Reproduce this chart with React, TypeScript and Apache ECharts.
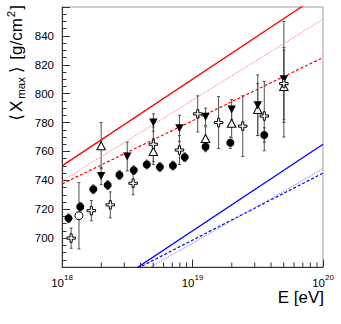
import React, { useEffect, useRef } from "react";
import * as echarts from "echarts";

// ---- axis settings ----
const yTicks = [680, 860]; // y range (min, max)
const xRange = [18, 20]; // lg(E/eV)
const xMinorTicks = [
  18.30103, 18.47712, 18.60206, 18.69897, 18.77815, 18.84510, 18.90309, 18.95424,
  19.30103, 19.47712, 19.60206, 19.69897, 19.77815, 19.84510, 19.90309, 19.95424,
];

// ---- filled circles ----
const circLgE = [18.05, 18.14, 18.24, 18.35, 18.44, 18.55, 18.65, 18.75, 18.85, 18.94, 19.1, 19.29, 19.55];
const circX = [713.7, 721.7, 733.8, 736.7, 743.7, 747.0, 751.0, 749.2, 750.2, 756.0, 763.3, 766.0, 771.4];
const circErr = [3, 3, 3, 3, 3, 3, 3, 3, 3, 3, 3.5, 4, 5];

// ---- open circle ----
const openCircLgE = [18.13];
const openCircX = [715.5];
const openCircErr = [23];

// ---- open crosses ----
const crossLgE = [18.07, 18.225, 18.37, 18.545, 18.7, 18.9, 19.04, 19.2, 19.385, 19.55, 19.7];
const crossX = [700, 719, 723, 738, 765, 761, 786, 780, 777.5, 784.5, 807];
const crossErr = [7, 7, 9, 8, 12, 10, 12.5, 18, 21, 24, 25];

// ---- filled down triangles ----
const downLgE = [18.3, 18.5, 18.7, 18.9, 19.1, 19.3, 19.5, 19.7];
const downX = [743, 756.5, 780, 776, 784, 789, 792, 810];
const downErr = [6, 10, 6, 9, 6, 7, 21, 40];

// ---- open up triangles ----
const upLgE = [18.3, 18.7, 19.1, 19.3, 19.5, 19.7];
const upX = [764, 760, 769, 779.5, 789, 805];
const upErr = [16, 9, 8, 10, 18, 25];

// ---- model lines (values at lgE 18 and 20) ----
const lineLgE = [18, 20];
const pSolid = [750, 870];
const pDotted = [739.5, 851.5];
const pDashed = [737.5, 825];
const feSolid = [645, 765];
const feDashed = [652.2, 745];
const feDotted = [645, 748];

const FONT = "'Liberation Sans', 'DejaVu Sans', Arial, sans-serif";

function errSeries(lgE: number[], val: number[], err: number[]) {
  return {
    type: "custom",
    silent: true,
    z: 2,
    data: lgE.map((x, i) => [x, val[i] - err[i], val[i] + err[i]]),
    encode: { x: 0, y: [1, 2] },
    renderItem: (params: any, api: any) => {
      const x = api.value(0);
      const p1 = api.coord([x, api.value(1)]);
      const p2 = api.coord([x, api.value(2)]);
      const cap = 1.5;
      const st = { stroke: "#505050", lineWidth: 1 };
      return {
        type: "group",
        children: [
          { type: "line", shape: { x1: p1[0], y1: p1[1], x2: p2[0], y2: p2[1] }, style: st },
          { type: "line", shape: { x1: p1[0] - cap, y1: p1[1], x2: p1[0] + cap, y2: p1[1] }, style: st },
          { type: "line", shape: { x1: p2[0] - cap, y1: p2[1], x2: p2[0] + cap, y2: p2[1] }, style: st },
        ],
      };
    },
  };
}

function scatter(lgE: number[], val: number[], symbol: string, size: number | number[], fill: string) {
  return {
    type: "scatter",
    silent: true,
    z: 5,
    symbol,
    symbolSize: size,
    data: lgE.map((x, i) => [x, val[i]]),
    itemStyle: { color: fill, borderColor: "#000", borderWidth: fill === "#000" ? 0 : 1, opacity: 1 },
  };
}

function modelLine(vals: number[], color: string, type: any, width: number) {
  return {
    type: "line",
    silent: true,
    z: 3,
    clip: true,
    symbol: "none",
    data: lineLgE.map((x, i) => [x, vals[i]]),
    lineStyle: { color, type, width },
  };
}

export default function App() {
  const ref = useRef<HTMLDivElement>(null);
  useEffect(() => {
    const chart = echarts.init(ref.current!, null, { renderer: "svg" });
    const crossPath = "path://M3,0 L5,0 L5,3 L8,3 L8,5 L5,5 L5,8 L3,8 L3,5 L0,5 L0,3 L3,3 Z";
    const downPath = "path://M0,0 L2,0 L1,1.8 Z";
    const upPath = "path://M1,0 L2,1.8 L0,1.8 Z";
    chart.setOption({
      animation: false,
      grid: { left: 62, right: 18, top: 7, bottom: 57, show: true, borderColor: "#a0a0a0", borderWidth: 1 },
      xAxis: {
        type: "value",
        min: xRange[0],
        max: xRange[1],
        interval: 1,
        axisLine: { lineStyle: { color: "#333", width: 1 } },
        axisTick: { inside: true, length: 7.5, lineStyle: { color: "#333" } },
        splitLine: { show: false },
        axisLabel: {
          margin: 6,
          formatter: (v: number) => `{b|10}{s|${v}}`,
          rich: {
            b: { fontFamily: FONT, fontSize: 11.5, color: "#000", lineHeight: 16, verticalAlign: "bottom" },
            s: { fontFamily: FONT, fontSize: 8, color: "#000", lineHeight: 8, verticalAlign: "top" },
          },
        },
      },
      yAxis: {
        type: "value",
        min: yTicks[0],
        max: yTicks[1],
        interval: 20,
        axisLine: { show: true, lineStyle: { color: "#333", width: 1 } },
        axisTick: { show: true, inside: true, length: 8, lineStyle: { color: "#333" } },
        minorTick: { show: true, splitNumber: 4, length: 4.5, lineStyle: { color: "#333" } },
        splitLine: { show: false },
        axisLabel: {
          margin: 8,
          fontFamily: FONT,
          fontSize: 11.5,
          color: "#000",
          formatter: (v: number) => (v === yTicks[0] || v === yTicks[1] ? "" : String(v)),
        },
      },
      graphic: [
        {
          type: "text",
          x: 16,
          y: 5,
          rotation: Math.PI / 2,
          style: {
            text: "{a|⟨}{b|X}{sub|max}{a|⟩}{b| [g/cm}{sup|2}{b|]}",
            align: "right",
            verticalAlign: "middle",
            rich: {
              a: { fontFamily: FONT, fontSize: 17, fill: "#000", lineHeight: 22, verticalAlign: "middle", padding: [0, 2, 0, 2] },
              b: { fontFamily: FONT, fontSize: 17, fill: "#000", lineHeight: 22, verticalAlign: "middle" },
              sub: { fontFamily: FONT, fontSize: 11.5, fill: "#000", lineHeight: 11, verticalAlign: "bottom", padding: [0, 2, 0, 2] },
              sup: { fontFamily: FONT, fontSize: 11.5, fill: "#000", lineHeight: 11, verticalAlign: "top", padding: [0, 1, 0, 1] },
            },
          },
        },
        {
          type: "text",
          x: 324,
          y: 297,
          style: {
            text: "E [eV]",
            align: "right",
            verticalAlign: "middle",
            font: `17px ${FONT}`,
            fill: "#000",
          },
        },
      ],
      series: [
        {
          type: "custom",
          silent: true,
          z: 4,
          data: xMinorTicks.map((x) => [x, yTicks[0]]),
          encode: { x: 0, y: 1 },
          renderItem: (params: any, api: any) => {
            const p = api.coord([api.value(0), api.value(1)]);
            return {
              type: "line",
              shape: { x1: p[0], y1: p[1], x2: p[0], y2: p[1] - 4.5 },
              style: { stroke: "#333", lineWidth: 1 },
            };
          },
        },
        modelLine(pSolid, "#ff0000", "solid", 1.3),
        modelLine(pDotted, "#ff7070", [1, 1], 1),
        modelLine(pDashed, "#ff0000", [3, 2], 1.2),
        modelLine(feSolid, "#0000ff", "solid", 1.3),
        modelLine(feDashed, "#0000ff", [3, 2], 1.2),
        modelLine(feDotted, "#7070ff", [1, 1], 1),
        errSeries(circLgE, circX, circErr),
        errSeries(openCircLgE, openCircX, openCircErr),
        errSeries(crossLgE, crossX, crossErr),
        errSeries(downLgE, downX, downErr),
        errSeries(upLgE, upX, upErr),
        scatter(circLgE, circX, "circle", 8, "#000"),
        scatter(openCircLgE, openCircX, "circle", 8, "#fff"),
        scatter(upLgE, upX, upPath, [8.5, 8], "#fff"),
        scatter(downLgE, downX, downPath, [8.5, 8], "#000"),
        scatter(crossLgE, crossX, crossPath, 8.5, "#fff"),
      ],
    });
    return () => chart.dispose();
  }, []);
  return <div ref={ref} style={{ position: "absolute", left: 0, top: 0, width: 341, height: 324 }} />;
}
